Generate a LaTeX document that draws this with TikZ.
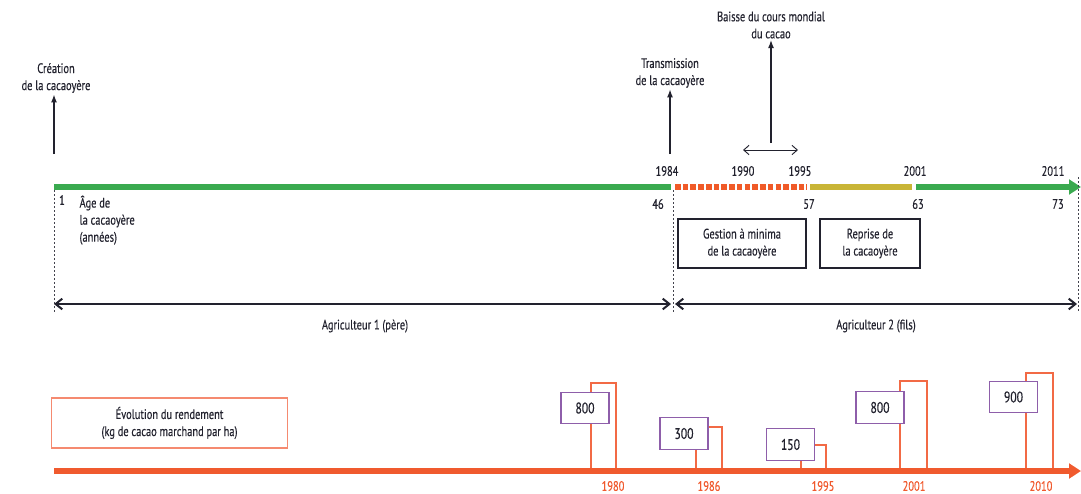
\documentclass[tikz,border=0pt]{standalone}
\usepackage{fontspec}
\setmainfont{PT Sans}[FakeStretch=0.76, FakeBold=0.35]
\usetikzlibrary{arrows.meta}
\definecolor{tlgreen}{HTML}{3AAA4F}
\definecolor{tlred}{HTML}{F05A28}
\definecolor{tlyellow}{HTML}{C9B536}
\definecolor{tlorange}{HTML}{F05A2E}
\definecolor{barorange}{HTML}{F26A45}
\definecolor{boxorange}{HTML}{F58A70}
\definecolor{tlpurple}{HTML}{8E5EAA}
\definecolor{txt}{HTML}{22222E}
\tikzset{
  lbl/.style={text=txt, inner sep=1pt, align=center},
  lbll/.style={text=txt, inner sep=1pt, align=left},
  yr/.style={text=tlorange, inner sep=1pt},
  vdash/.style={draw=txt!85, line width=0.7pt, dash pattern=on 1.5pt off 1.5pt},
  event/.style={draw=txt, line width=0.9pt, -{Latex[length=6pt,width=4.5pt]}},
  period/.style={draw=txt, line width=1.5pt, {Straight Barb[length=5pt,width=8pt]}-{Straight Barb[length=5pt,width=8pt]}},
  thinperiod/.style={draw=txt, line width=0.7pt, {Straight Barb[length=4pt,width=7pt]}-{Straight Barb[length=4pt,width=7pt]}},
  phase/.style={draw=txt, line width=0.9pt, text=txt, align=center, minimum height=36.75pt, inner sep=2pt},
  valbox/.style={draw=tlpurple, line width=0.9pt, fill=white, text=txt, minimum width=36pt, minimum height=23.5pt, inner sep=1pt, font=\fontsize{11.5}{13}\selectfont},
  bar/.style={draw=barorange, line width=0.9pt},
}
\begin{document}
\begin{tikzpicture}[x=0.75pt,y=-0.75pt, font=\fontsize{10.3}{12.8}\selectfont]
\useasboundingbox (0,0) rectangle (1081,493);

% --- top timeline ---
\coordinate (g0) at (54,187);
\coordinate (g1) at (671,187);
\coordinate (r0) at (675,187);
\coordinate (r1) at (807,187);
\coordinate (y0) at (810,187);
\coordinate (y1) at (912,187);
\coordinate (g2) at (916,187);
\coordinate (g3) at (1081,187);
\draw[tlgreen, line width=3.8pt] (g0) -- (g1);
\draw[tlred, line width=3.8pt, dash pattern=on 4.2pt off 1.6pt] (r0) -- (r1);
\draw[tlyellow, line width=3.8pt] (y0) -- (y1);
\draw[tlgreen, line width=3.8pt, -{Triangle[length=9pt,width=11pt]}] (g2) -- (g3);

% dashed verticals
\coordinate (d1a) at (54,190);  \coordinate (d1b) at (54,313);
\coordinate (d2a) at (673,190); \coordinate (d2b) at (673,313);
\coordinate (d3a) at (1078,177); \coordinate (d3b) at (1078,313);
\draw[vdash] (d1a) -- (d1b);
\draw[vdash] (d2a) -- (d2b);
\draw[vdash] (d3a) -- (d3b);

% events
\node[lbl] (cre) at (56,78) {Création\\de la cacaoyère};
\coordinate (cre0) at (54,154);
\draw[event] (cre0) -- (cre0 |- cre.south);
\node[lbl] (tra) at (670,73) {Transmission\\de la cacaoyère};
\coordinate (tra0) at (670,154);
\draw[event] (tra0) -- (tra0 |- tra.south);
\node[lbl] (bai) at (771,25) {Baisse du cours mondial\\du cacao};
\coordinate (bai0) at (771,143);
\draw[event] (bai0) -- (bai0 |- bai.south);
\coordinate (p90) at (743,150);
\coordinate (p95) at (798,150);
\draw[thinperiod] (p90) -- (p95);

% years above
\node[lbl] (y1984) at (667,171) {1984};
\node[lbl] (y1990) at (743,171) {1990};
\node[lbl] (y1995) at (800,171) {1995};
\node[lbl] (y2001) at (915,171) {2001};
\node[lbl] (y2011) at (1053,171) {2011};

% ages below
\node[lbl] (a1) at (62,200) {1};
\node[lbl] (a46) at (658,204) {46};
\node[lbl] (a57) at (809,204) {57};
\node[lbl] (a63) at (918,204) {63};
\node[lbl] (a73) at (1058,204) {73};
\node[lbll, anchor=north west] (age) at (78,194) {Âge de\\la cacaoyère\\(années)};

% phases
\node[phase, minimum width=96pt] (ges) at (742,243.5) {Gestion à minima\\de la cacaoyère};
\node[phase, minimum width=75pt] (rep) at (870,243.5) {Reprise de\\la cacaoyère};

% farmers
\draw[period] (d1a |- 0,304) coordinate (f1a) -- (671,304) coordinate (f1b);
\draw[period] (675,304) coordinate (f2a) -- (1077,304) coordinate (f2b);
\node[lbl] (ag1) at (365,326) {Agriculteur 1 (père)};
\node[lbl] (ag2) at (876,326) {Agriculteur 2 (fils)};

% --- bottom: yield ---
\node[lbl, draw=boxorange, line width=0.9pt, minimum width=177.5pt, minimum height=37.5pt] (evo) at (169.5,423) {Évolution du rendement\\(kg de cacao marchand par ha)};
\coordinate (o0) at (54,471);
\coordinate (o1) at (1081,471);

% bars
\draw[bar] (591,471) -- (591,383) -- (616,383) -- (616,471);
\draw[bar] (696,471) -- (696,427) -- (722,427) -- (722,471);
\draw[bar] (801,471) -- (801,445) -- (826,445) -- (826,471);
\draw[bar] (900,471) -- (900,381) -- (927,381) -- (927,471);
\draw[bar] (1026,471) -- (1026,373) -- (1053,373) -- (1053,471);

\draw[tlorange, line width=4.5pt, -{Triangle[length=9pt,width=11pt]}] (o0) -- (o1);

\node[valbox] (v1980) at (585,408) {800};
\node[valbox] (v1986) at (684,433.5) {300};
\node[valbox] (v1995) at (790.5,444.5) {150};
\node[valbox] (v2001) at (880,407.5) {800};
\node[valbox] (v2010) at (1013.5,397) {900};

\node[yr] (t1980) at (613,486) {1980};
\node[yr] (t1986) at (709,486) {1986};
\node[yr] (t1995) at (823,486) {1995};
\node[yr] (t2001) at (914,486) {2001};
\node[yr] (t2010) at (1041,486) {2010};
\end{tikzpicture}
\end{document}
